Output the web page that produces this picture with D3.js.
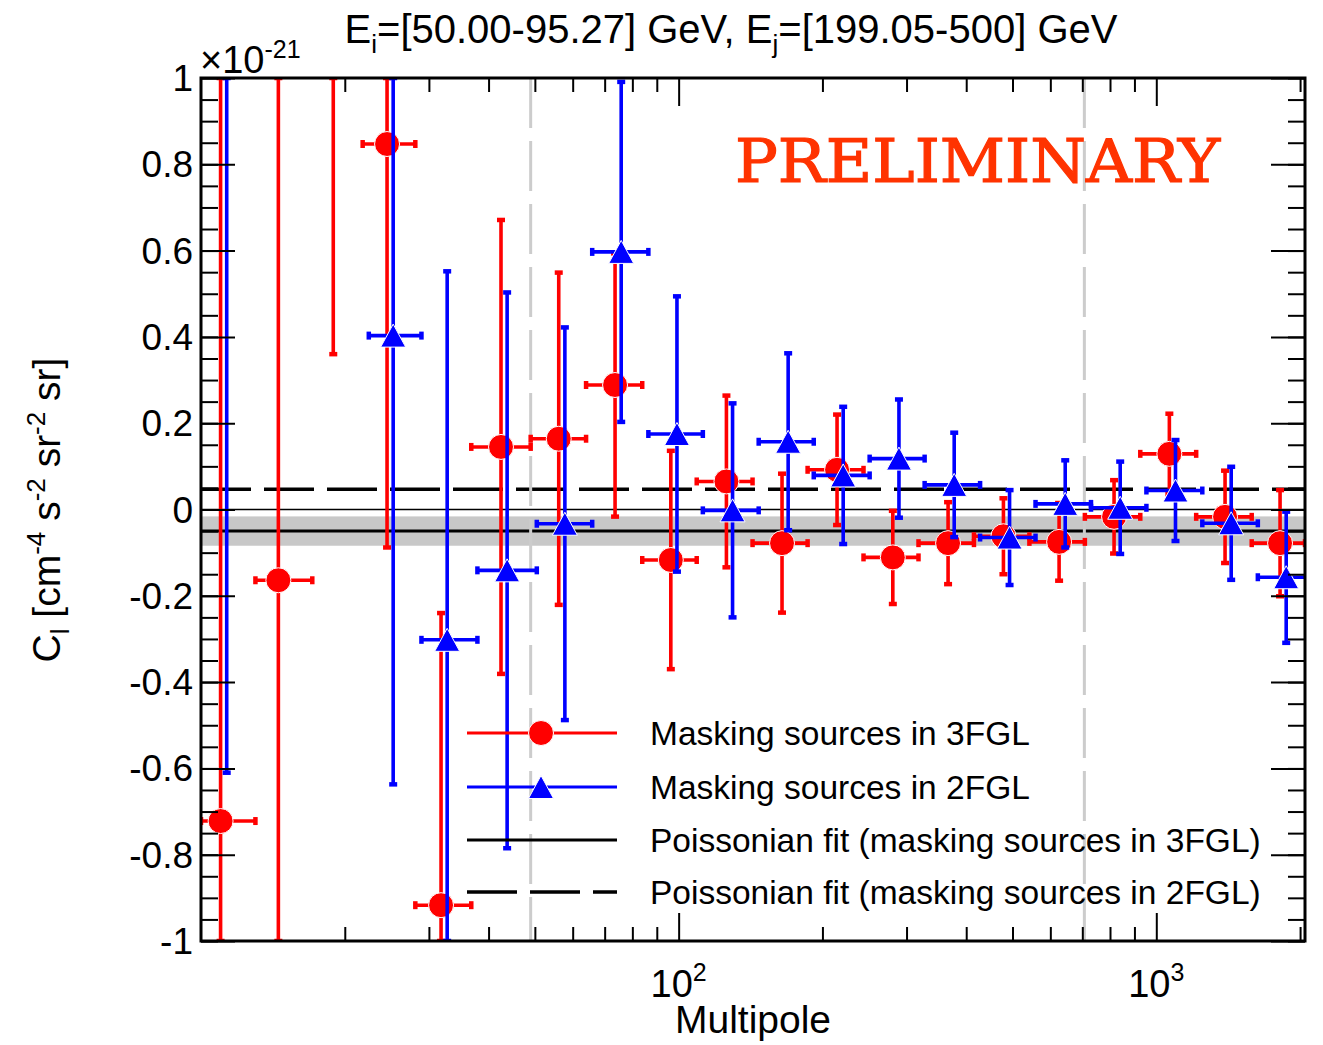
<!DOCTYPE html>
<html>
<head>
<meta charset="utf-8">
<script src="https://cdn.jsdelivr.net/npm/d3@7"></script>
<style>
  body { margin: 0; background: #fff; }
  svg { display: block; }
  text { font-family: "Liberation Sans", Arial, Helvetica, sans-serif; fill: #000; }
</style>
</head>
<body>
<svg id="chart" width="1323" height="1045"></svg>
<script>
// Multipole bins (edges) and the effective multipole of each bin
const binEdges = [10, 13.0, 17.1, 21.8, 28.1, 36.8, 49.0, 64.0, 83.9, 109.1, 142.8,
                  186.2, 243.8, 317.8, 415.2, 542.4, 708.7, 925.7, 1212, 1584, 2048];
const ellCenters = [10.99, 14.52, 18.92, 24.52, 31.81, 42.47, 56.10, 73.6, 96.3, 125.9,
                    164.6, 214.6, 280.8, 366.5, 478.6, 625.9, 815.8, 1065, 1393, 1816];

// Cross-correlation angular power spectrum, units of 1e-21 cm^-4 s^-2 sr^-2 sr
const cl3FGL    = [-0.722, -0.164, 1.35, 0.847, -0.917, 0.145, 0.164, 0.2885, -0.117, 0.065,
                   -0.078, 0.092, -0.111, -0.078, -0.062, -0.075, -0.017, 0.129, -0.017, -0.078];
const cl3FGLErr = [1.85, 1.50, 0.99, 0.935, 0.677, 0.526, 0.385, 0.305, 0.253, 0.199,
                   0.161, 0.128, 0.108, 0.095, 0.088, 0.090, 0.085, 0.093, 0.107, 0.123];
const cl2FGL    = [1.15, null, null, 0.403, -0.302, -0.141, -0.033, 0.597, 0.175, -0.002,
                   0.157, 0.079, 0.118, 0.057, -0.065, 0.013, 0.004, 0.044, -0.032, -0.157];
const cl2FGLErr = [1.76, null, null, 1.04, 0.854, 0.644, 0.455, 0.394, 0.319, 0.248,
                   0.205, 0.159, 0.137, 0.121, 0.110, 0.101, 0.107, 0.117, 0.131, 0.152];

// Poissonian (constant) fits over the multipole range between the two markers
const fit3FGL = -0.050;
const fit3FGLErr = 0.034;
const fit2FGL = 0.047;
const fitRange = [49, 707];

// Axis ticks
const yMajorTicks = [-1, -0.8, -0.6, -0.4, -0.2, 0, 0.2, 0.4, 0.6, 0.8, 1];
const yTickLabels = ["-1", "-0.8", "-0.6", "-0.4", "-0.2", "0", "0.2", "0.4", "0.6", "0.8", "1"];
const yMinorTicks = d3.range(-1, 1.0001, 0.05).map(v => +v.toFixed(2));
const xMajorTicks = [100, 1000];
const xTickExponents = ["2", "3"];
const xMinorTicks = [20, 30, 40, 50, 60, 70, 80, 90, 200, 300, 400, 500, 600, 700, 800, 900, 2000];

const legendLabels = [
  "Masking sources in 3FGL",
  "Masking sources in 2FGL",
  "Poissonian fit (masking sources in 3FGL)",
  "Poissonian fit (masking sources in 2FGL)"
];

const RED = "#ff0000", BLUE = "#0000ff";
const blueShift = 1.03;   // 2FGL points drawn slightly to the right

const svg = d3.select("#chart");
const L = 201, R = 1305, T = 78, B = 941;

const x = d3.scaleLog().domain([10, 2048]).range([L, R]);
const y = d3.scaleLinear().domain([-1, 1]).range([B, T]);
const yc = v => y(Math.max(-1, Math.min(1, v)));

svg.append("defs").append("clipPath").attr("id", "plotClip")
  .append("rect").attr("x", L).attr("y", T).attr("width", R - L).attr("height", B - T);

const plot = svg.append("g").attr("clip-path", "url(#plotClip)");

// Uncertainty band of the 3FGL fit
plot.append("rect")
  .attr("x", L).attr("width", R - L)
  .attr("y", y(fit3FGL + fit3FGLErr))
  .attr("height", y(fit3FGL - fit3FGLErr) - y(fit3FGL + fit3FGLErr))
  .attr("fill", "#c8c8c8");

// Zero line
plot.append("line").attr("x1", L).attr("x2", R).attr("y1", y(0)).attr("y2", y(0))
  .attr("stroke", "#000").attr("stroke-width", 1.5);

// Fit lines
plot.append("line").attr("x1", L).attr("x2", R).attr("y1", y(fit3FGL)).attr("y2", y(fit3FGL))
  .attr("stroke", "#000").attr("stroke-width", 3);
plot.append("line").attr("x1", L).attr("x2", R).attr("y1", y(fit2FGL)).attr("y2", y(fit2FGL))
  .attr("stroke", "#000").attr("stroke-width", 3.5).attr("stroke-dasharray", "50,13");

// Fit range markers
fitRange.forEach(l => {
  plot.append("line").attr("x1", x(l)).attr("x2", x(l)).attr("y1", T).attr("y2", B)
    .attr("stroke", "#cccccc").attr("stroke-width", 3).attr("stroke-dasharray", "50,13");
});

// Watermark
svg.append("text")
  .attr("x", 735).attr("y", 182)
  .attr("textLength", 485).attr("lengthAdjust", "spacingAndGlyphs")
  .style("font-family", "'DejaVu Serif', 'Liberation Serif', serif")
  .style("font-size", "60px")
  .style("fill", "#ff3300")
  .style("stroke", "#ff3300").style("stroke-width", "1.2px")
  .text("PRELIMINARY");

// Marker shapes
function circleMarker(g, cx, cy, color) {
  g.append("circle").attr("cx", cx).attr("cy", cy).attr("r", 12.5)
    .attr("fill", color).attr("stroke", "#fff").attr("stroke-width", 1);
}
function triangleMarker(g, cx, cy, color) {
  const w = 25, h = 23;
  g.append("path")
    .attr("d", `M${cx},${cy - h / 2}L${cx + w / 2},${cy + h / 2}L${cx - w / 2},${cy + h / 2}Z`)
    .attr("fill", color).attr("stroke", "#fff").attr("stroke-width", 1);
}

function drawSeries(values, errors, shift, color, marker) {
  const g = plot.append("g");
  values.forEach((v, i) => {
    if (v === null) return;
    const e = errors[i];
    const cx = x(ellCenters[i] * shift);
    const cy = y(v);
    const lo = x(binEdges[i] * shift), hi = x(binEdges[i + 1] * shift);
    const yTop = yc(v + e), yBot = yc(v - e);
    const seg = (x1, y1, x2, y2, w) => g.append("line")
      .attr("x1", x1).attr("y1", y1).attr("x2", x2).attr("y2", y2)
      .attr("stroke", color).attr("stroke-width", w);
    // vertical error bar with caps
    seg(cx, yTop, cx, yBot, 3.6);
    seg(cx - 4, yTop, cx + 4, yTop, 4.5);
    seg(cx - 4, yBot, cx + 4, yBot, 4.5);
    // bin width bar with caps
    seg(lo, cy, hi, cy, 3.6);
    seg(lo, cy - 4, lo, cy + 4, 4.5);
    seg(hi, cy - 4, hi, cy + 4, 4.5);
    marker(g, cx, cy, color);
  });
}

drawSeries(cl3FGL, cl3FGLErr, 1, RED, circleMarker);
drawSeries(cl2FGL, cl2FGLErr, blueShift, BLUE, triangleMarker);

// Axes: inward ticks on all four sides
function tickAxis(axisFn, scale, values, size, tx, ty) {
  const g = svg.append("g").attr("transform", `translate(${tx},${ty})`)
    .call(axisFn(scale).tickValues(values).tickSize(-size).tickSizeOuter(0).tickFormat(""));
  g.select(".domain").remove();
  g.selectAll(".tick line").attr("stroke", "#000").attr("stroke-width", 2);
  return g;
}
tickAxis(d3.axisBottom, x, xMinorTicks, 14, 0, B);
tickAxis(d3.axisBottom, x, xMajorTicks, 28, 0, B);
tickAxis(d3.axisTop, x, xMinorTicks, 14, 0, T);
tickAxis(d3.axisTop, x, xMajorTicks, 28, 0, T);
tickAxis(d3.axisLeft, y, yMinorTicks, 17, L, 0);
tickAxis(d3.axisLeft, y, yMajorTicks, 34, L, 0);
tickAxis(d3.axisRight, y, yMinorTicks, 17, R, 0);
tickAxis(d3.axisRight, y, yMajorTicks, 34, R, 0);

// Frame
svg.append("rect").attr("x", L).attr("y", T).attr("width", R - L).attr("height", B - T)
  .attr("fill", "none").attr("stroke", "#000").attr("stroke-width", 3);

// Y tick labels
svg.append("g").selectAll("text").data(yMajorTicks).join("text")
  .attr("x", 193).attr("y", d => y(d) + 13)
  .attr("text-anchor", "end")
  .style("font-size", "37px")
  .text((d, i) => yTickLabels[i]);

// X tick labels (powers of ten)
xMajorTicks.forEach((t, i) => {
  const tx = svg.append("text").attr("x", x(t)).attr("y", 997)
    .attr("text-anchor", "middle").style("font-size", "38px");
  tx.append("tspan").text("10");
  tx.append("tspan").attr("dy", -16).style("font-size", "25px").text(xTickExponents[i]);
});

// Exponent of the y axis
const expo = svg.append("text").attr("x", 200).attr("y", 73).style("font-size", "38px");
expo.append("tspan").text("\u00d710");
expo.append("tspan").attr("dy", -15).style("font-size", "25px").text("-21");

// Title
const title = svg.append("text").attr("x", 731).attr("y", 43)
  .attr("text-anchor", "middle").style("font-size", "40px");
title.append("tspan").text("E");
title.append("tspan").attr("dy", 10).style("font-size", "26px").text("i");
title.append("tspan").attr("dy", -10).text("=[50.00-95.27] GeV, E");
title.append("tspan").attr("dy", 10).style("font-size", "26px").text("j");
title.append("tspan").attr("dy", -10).text("=[199.05-500] GeV");

// Axis titles
svg.append("text").attr("x", 753).attr("y", 1033).attr("text-anchor", "middle")
  .style("font-size", "39px").text("Multipole");

const yl = svg.append("text").attr("transform", "translate(60,510) rotate(-90)")
  .attr("text-anchor", "middle").style("font-size", "39px");
yl.append("tspan").text("C");
yl.append("tspan").attr("dy", 9).style("font-size", "26px").text("l");
yl.append("tspan").attr("dy", -9).text(" [cm");
yl.append("tspan").attr("dy", -15).style("font-size", "26px").text("-4");
yl.append("tspan").attr("dy", 15).text(" s");
yl.append("tspan").attr("dy", -15).style("font-size", "26px").text("-2");
yl.append("tspan").attr("dy", 15).text(" sr");
yl.append("tspan").attr("dy", -15).style("font-size", "26px").text("-2");
yl.append("tspan").attr("dy", 15).text(" sr]");

// Legend
const legendRows = [733, 787, 840, 892];
const lg = svg.append("g");
legendLabels.forEach((label, i) => {
  const ly = legendRows[i];
  const line = lg.append("line").attr("x1", 467).attr("x2", 617).attr("y1", ly).attr("y2", ly)
    .attr("stroke-width", 3);
  if (i === 0) { line.attr("stroke", RED); circleMarker(lg, 541, ly, RED); }
  else if (i === 1) { line.attr("stroke", BLUE); triangleMarker(lg, 541, ly, BLUE); }
  else if (i === 2) { line.attr("stroke", "#000"); }
  else { line.attr("stroke", "#000").attr("stroke-width", 3.5).attr("stroke-dasharray", "50,13"); }
  lg.append("text").attr("x", 650).attr("y", ly + 12).style("font-size", "33.5px").text(label);
});
</script>
</body>
</html>
